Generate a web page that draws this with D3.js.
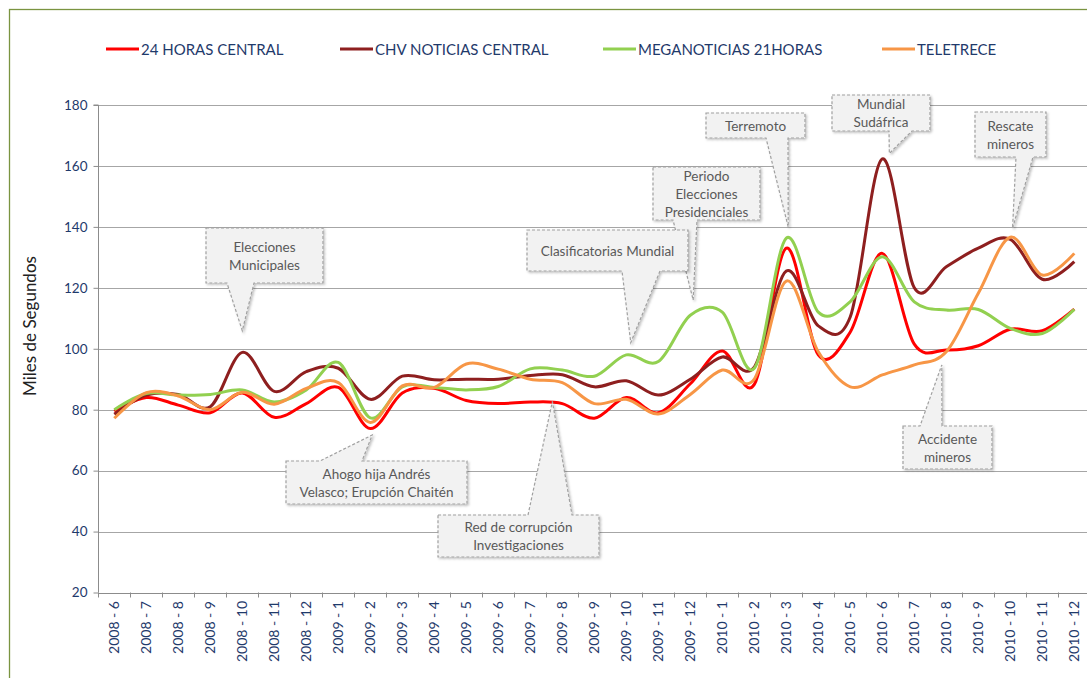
<!DOCTYPE html>
<html lang="es">
  <head>
    <meta charset="utf-8">
    <title>Noticieros centrales 2008-2010</title>
    <script src="https://d3js.org/d3.v7.js"></script>
    <style>
      body { margin: 0; background: #fff; }
      * { font-family: Lato, "Open Sans", sans-serif; }
      .tick text { fill: #1F3A6B; }
    </style>
  </head>
  <body>
    <script type="text/javascript">

      // categories (year - month)
      var months = ["2008 - 6","2008 - 7","2008 - 8","2008 - 9","2008 - 10","2008 - 11","2008 - 12",
                    "2009 - 1","2009 - 2","2009 - 3","2009 - 4","2009 - 5","2009 - 6","2009 - 7","2009 - 8",
                    "2009 - 9","2009 - 10","2009 - 11","2009 - 12","2010 - 1","2010 - 2","2010 - 3","2010 - 4",
                    "2010 - 5","2010 - 6","2010 - 7","2010 - 8","2010 - 9","2010 - 10","2010 - 11","2010 - 12"];

      // series values (miles de segundos)
      var horas24 = [79.5, 84, 81.5, 79, 85.5, 77.5, 82, 87.3, 73.8, 85.5, 87, 83, 82, 82.5, 82, 77.2,
                     84, 79, 88.5, 99.3, 88.3, 133, 98, 105.5, 131.3, 101.5, 99.6, 101, 106.4, 105.9, 113];
      var chv = [78.5, 84.8, 85, 81, 98.8, 86, 92.5, 93.6, 83.4, 91, 89.8, 90, 90, 91.2, 91.5, 87.5,
                 89.5, 84.8, 90, 97.3, 94, 125.5, 107.5, 110.5, 162.3, 120, 126.9, 133, 135.9, 122.8, 128.6];
      var mega = [80, 85.3, 84.8, 85, 86.5, 82.5, 86.5, 95.5, 77.3, 87.5, 87.3, 86.5, 87.6, 93.4, 93, 91,
                  98, 95.8, 111, 112, 93.6, 136.3, 112, 115.5, 130.2, 115.4, 112.7, 112.9, 106.7, 105, 112.9];
      var teletrece = [77.2, 85.6, 84.5, 80, 85.7, 81.8, 87, 88.9, 75.8, 87.8, 87.3, 95, 93.3, 90, 88.9, 82,
                       83.4, 78.6, 85, 93, 90, 122.2, 99, 87.5, 91.4, 94.7, 99, 118.2, 136.6, 124.2, 131.3];

      var seriesNames = ["24 HORAS CENTRAL", "CHV NOTICIAS CENTRAL", "MEGANOTICIAS 21HORAS", "TELETRECE"];
      var yTicks = [20, 40, 60, 80, 100, 120, 140, 160, 180];

      // annotations: text lines, tip position (category index, value)
      var noteText = [["Elecciones", "Municipales"],
                      ["Ahogo hija Andrés", "Velasco; Erupción Chaitén"],
                      ["Red de corrupción", "Investigaciones"],
                      ["Periodo", "Elecciones", "Presidenciales"],
                      ["Clasificatorias Mundial"],
                      ["Terremoto"],
                      ["Mundial", "Sudáfrica"],
                      ["Rescate", "mineros"],
                      ["Accidente", "mineros"]];
      var noteAt = [4.0, 8.06, 13.69, 18.09, 16.14, 21.06, 24.22, 28.07, 25.86];
      var noteValue = [105.9, 71.7, 82.7, 116, 102, 140, 164.1, 139.5, 94.7];

      // layout / styles
      var w = 1087, h = 678;
      var colors = ["#FF0000", "#8E1F1F", "#92D050", "#F79646"];
      var legendX = [106, 340, 603, 882];
      var boxes = [
        {x0: 206, y0: 228, x1: 323, y1: 283, side: "bottom", a: 227, b: 254},
        {x0: 286, y0: 461, x1: 467, y1: 504, side: "top", a: 320, b: 362},
        {x0: 438, y0: 515, x1: 599, y1: 557, side: "top", a: 528, b: 572},
        {x0: 653, y0: 167, x1: 760, y1: 220, side: "bottom", a: 673, b: 697},
        {x0: 527, y0: 230, x1: 688, y1: 271, side: "bottom", a: 622, b: 660},
        {x0: 706, y0: 113, x1: 805, y1: 138, side: "bottom", a: 766, b: 788},
        {x0: 832, y0: 95, x1: 930, y1: 131, side: "bottom", a: 889, b: 912},
        {x0: 975, y0: 112, x1: 1046, y1: 157, side: "bottom", a: 1016, b: 1033},
        {x0: 903, y0: 426, x1: 992, y1: 469, side: "top", a: 920, b: 942}
      ];

      var xScale = d3.scaleBand()
        .domain(months)
        .range([98.3, 98.3 + 32 * months.length]);
      var yScale = d3.scaleLinear()
        .domain([20, 180])
        .range([592.5, 105]);
      var xc = d => xScale(d) + xScale.bandwidth() / 2;
      var xAt = t => xScale(months[0]) + xScale.bandwidth() * (t + 0.5);

      var svg = d3.select("body")
        .append("svg")
          .attr("width", w)
          .attr("height", h);

      var defs = svg.append("defs");
      defs.append("filter")
        .attr("id", "shadow")
        .attr("x", "-10%").attr("y", "-10%").attr("width", "130%").attr("height", "130%")
        .append("feDropShadow")
          .attr("dx", 1.5).attr("dy", 1.5).attr("stdDeviation", 1)
          .attr("flood-color", "#000").attr("flood-opacity", 0.25);

      // outer border
      svg.append("rect")
        .attr("x", 9.5).attr("y", 9.5)
        .attr("width", w + 20).attr("height", h + 20)
        .attr("fill", "none")
        .attr("stroke", "#7A9440")
        .attr("stroke-width", 1.3);

      // grid lines
      svg.append("g")
        .selectAll("line")
        .data(yTicks.slice(1)).enter().append("line")
          .attr("x1", xScale.range()[0]).attr("x2", xScale.range()[1])
          .attr("y1", d => Math.round(yScale(d)) + 0.5)
          .attr("y2", d => Math.round(yScale(d)) + 0.5)
          .attr("stroke", "#A6A6A6");

      // y axis
      var yAxis = d3.axisLeft(yScale).tickValues(yTicks).tickSize(5).tickPadding(6);
      var gy = svg.append("g")
        .attr("transform", "translate(98.5,0)")
        .call(yAxis);
      gy.selectAll("path, line").attr("stroke", "#8C8C8C");
      gy.selectAll("text").style("font-size", "13.5px");
      gy.select(".domain").attr("d", `M-5,${yScale(180)}H0V${yScale(20)}`);

      // x axis (ticks between categories)
      var gx = svg.append("g");
      gx.append("line")
        .attr("x1", xScale.range()[0]).attr("x2", xScale.range()[1])
        .attr("y1", Math.round(yScale(20)) + 0.5).attr("y2", Math.round(yScale(20)) + 0.5)
        .attr("stroke", "#8C8C8C");
      gx.selectAll(".xt")
        .data(months).enter().append("line")
          .attr("x1", d => Math.round(xScale(d)) + 0.5)
          .attr("x2", d => Math.round(xScale(d)) + 0.5)
          .attr("y1", yScale(20)).attr("y2", yScale(20) + 5)
          .attr("stroke", "#8C8C8C");
      gx.selectAll("text")
        .data(months).enter().append("text")
          .attr("transform", d => `translate(${xc(d) + 5},601) rotate(-90)`)
          .attr("text-anchor", "end")
          .style("font-size", "14px")
          .attr("fill", "#1F3A6B")
          .text(d => d);

      // y axis title
      svg.append("text")
        .attr("transform", "translate(36,326) rotate(-90)")
        .attr("text-anchor", "middle")
        .style("font-size", "17px")
        .attr("fill", "#222")
        .text("Miles de Segundos");

      // series lines
      var allSeries = [horas24, chv, mega, teletrece];
      var line = d3.line()
        .x((d, i) => xc(months[i]))
        .y(d => yScale(d))
        .curve(d3.curveCardinal.tension(0));
      svg.append("g")
        .selectAll("path")
        .data(allSeries).enter().append("path")
          .attr("d", line)
          .attr("fill", "none")
          .attr("stroke", (d, i) => colors[i])
          .attr("stroke-width", 3)
          .attr("stroke-linejoin", "round");

      // legend
      var leg = svg.append("g")
        .selectAll("g")
        .data(seriesNames).enter().append("g")
          .attr("transform", (d, i) => `translate(${legendX[i]},49)`);
      leg.append("line")
        .attr("x1", 0).attr("x2", 33)
        .attr("stroke", (d, i) => colors[i])
        .attr("stroke-width", 3);
      leg.append("text")
        .attr("x", 35).attr("y", 5.5)
        .style("font-size", "15px")
        .attr("fill", "#1F3A6B")
        .text(d => d);

      // callouts
      function calloutPath(b, tx, ty) {
        if (b.side == "bottom") {
          return `M${b.x0},${b.y0}H${b.x1}V${b.y1}H${b.b}L${tx},${ty}L${b.a},${b.y1}H${b.x0}Z`;
        }
        return `M${b.x0},${b.y0}H${b.a}L${tx},${ty}L${b.b},${b.y0}H${b.x1}V${b.y1}H${b.x0}Z`;
      }
      var notes = svg.append("g")
        .selectAll("g")
        .data(noteText).enter().append("g");
      notes.append("path")
        .attr("d", (d, i) => calloutPath(boxes[i], xAt(noteAt[i]), yScale(noteValue[i])))
        .attr("fill", "#F2F2F2")
        .attr("stroke", "#A0A0A0")
        .attr("stroke-width", 1.2)
        .attr("stroke-dasharray", "3,2")
        .attr("filter", "url(#shadow)");
      notes.each(function(d, i) {
        var b = boxes[i];
        var cy = (b.y0 + b.y1) / 2;
        var lh = 18;
        d3.select(this).selectAll("text")
          .data(d).enter().append("text")
            .attr("x", (b.x0 + b.x1) / 2)
            .attr("y", (t, j) => cy + (j - (d.length - 1) / 2) * lh + 5)
            .attr("text-anchor", "middle")
            .style("font-size", "13.5px")
            .attr("fill", "#595959")
            .text(t => t);
      });

    </script>
  </body>
</html>
